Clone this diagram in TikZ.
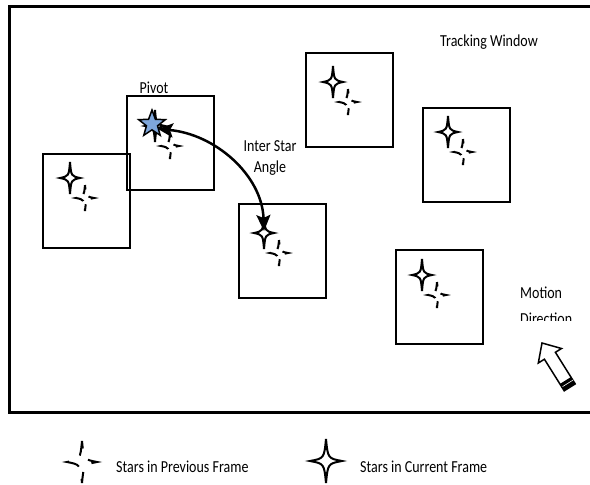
\documentclass[tikz,border=0pt]{standalone}
\usepackage{graphicx}
\usepackage{fontspec}
\setmainfont{Carlito}
\usetikzlibrary{shapes.geometric,arrows.meta}

\definecolor{pivotblue}{HTML}{7EA6DA}

% slightly tall lettering
\newcommand{\TallText}[1]{\scalebox{1}[1.2]{#1}}

% four-pointed sparkle star: centre (#2,#3), half width #4, half height #5
\newcommand{\SparkStar}[5]{%
  \begin{scope}[shift={(#2,#3)}]
    \draw[#1] (0,-#5)
      .. controls (0.12*#4,-0.12*#5) .. (#4,0)
      .. controls (0.12*#4,0.12*#5) .. (0,#5)
      .. controls (-0.12*#4,0.12*#5) .. (-#4,0)
      .. controls (-0.12*#4,-0.12*#5) .. (0,-#5) -- cycle;
  \end{scope}}

\begin{document}
\begin{tikzpicture}[x=1pt,y=-1pt,
  outerframe/.style={line width=3pt},
  win/.style={draw, line width=2pt, minimum width=87pt, minimum height=94pt,
    inner sep=0pt, anchor=north west},
  lbl/.style={font=\fontsize{14}{16}\selectfont, inner sep=0pt},
  curstar/.style={line width=2pt, line join=miter},
  prevstar/.style={line width=2pt, dash pattern=on 9pt off 8pt, dash phase=4.5pt},
  prevbig/.style={line width=2pt, dash pattern=on 15pt off 13pt, dash phase=7.5pt},
  angle/.style={line width=2.5pt, {Stealth[length=15pt,width=14pt,inset=3pt]}-{Stealth[length=16pt,width=14pt,inset=3pt]}}
]
\useasboundingbox (0,0) rectangle (590,485);

% tracking area frame (open on the right)
\draw[outerframe] (592,6) -- (9,6) -- (9,412) -- (592,412);

% star windows
\node[win] (winA) at (42,153) {};
\node[win] (winP) at (126,95) {};
\node[win] (winC) at (238,203) {};
\node[win] (winD) at (305,52) {};
\node[win] (winE) at (422,107) {};
\node[win] (winF) at (395,249) {};

% stars: current frame and previous frame
\SparkStar{curstar}{70}{178}{10}{16}
\SparkStar{prevstar}{85}{198}{9}{13}
\SparkStar{curstar}{155}{126}{10}{16}
\SparkStar{prevstar}{170}{146}{9}{13}
\SparkStar{curstar}{264}{233}{10}{16}
\SparkStar{prevstar}{279}{253}{9}{13}
\SparkStar{curstar}{333}{82}{10}{16}
\SparkStar{prevstar}{348}{102}{9}{13}
\SparkStar{curstar}{448}{132}{10}{16}
\SparkStar{prevstar}{463}{152}{9}{13}
\SparkStar{curstar}{422}{275}{10}{16}
\SparkStar{prevstar}{437}{295}{9}{13}

% pivot star
\node[star, star points=5, star point ratio=2.4, minimum size=28pt, inner sep=0pt,
  draw, line width=1.5pt, fill=pivotblue] (pivot) at (152,124) {};

% inter star angle
\coordinate (angA) at (158,129);
\coordinate (angB) at (264,231);
\draw[angle] (angA) .. controls (215,134) and (262,175) .. (angB);

% labels
\node[lbl, anchor=base] (tPivot) at (154,93) {\TallText{Pivot}};
\node[lbl, anchor=base] (tInter) at (270,151) {\TallText{Inter Star}};
\node[lbl, anchor=base] (tAngle) at (270,172) {\TallText{Angle}};
\node[lbl, anchor=base] (tTrack) at (489,46) {\TallText{Tracking Window}};
\node[lbl, anchor=base west] (tMotion) at (520,298) {\TallText{Motion}};
\begin{scope}
  \clip (500,300) rectangle (590,320.5);
  \node[lbl, anchor=base west] (tDir) at (520,324) {\TallText{Direction}};
\end{scope}

% motion direction block arrow
\draw[line width=1.5pt, line join=miter, fill=white]
  (542,343) -- (561.5,348.5) -- (555.4,352.3) -- (575.2,383.9)
  -- (564.2,390.8) -- (544.4,359.2) -- (538.3,363.0) -- cycle;
\fill (560.0,383.9) -- (571.0,377.0) -- (575.2,383.9) -- (564.2,390.8) -- cycle;
\draw[white, line width=0.6pt] (562.6,386.6) -- (573.1,380.0);

% legend
\SparkStar{prevbig}{82}{462}{15}{21}
\node[lbl, anchor=base west] (tPrev) at (116,472) {\TallText{Stars in Previous Frame}};
\SparkStar{curstar}{326}{461}{16}{22}
\node[lbl, anchor=base west] (tCur) at (360,472) {\TallText{Stars in Current Frame}};
\end{tikzpicture}
\end{document}
